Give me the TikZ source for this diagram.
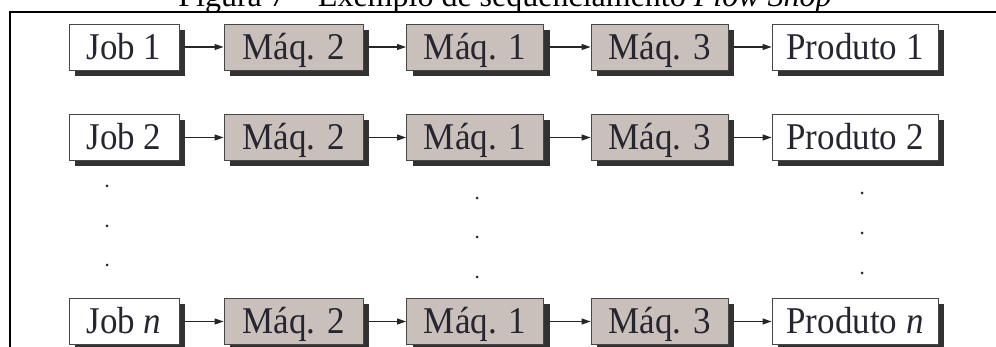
\documentclass[tikz,border=0pt]{standalone}
\usepackage{fontspec}
\usepackage{graphicx}
\setmainfont{Liberation Serif}
\usetikzlibrary{arrows.meta,shadows}

\definecolor{machinefill}{RGB}{201,191,187}
\definecolor{shadowgray}{RGB}{50,50,50}
\definecolor{edgegray}{RGB}{70,70,70}
\definecolor{inkdark}{RGB}{38,38,48}

% box labels are set slightly taller than wide
\newcommand{\boxlabel}[1]{\scalebox{1}[1.08]{#1}}

\tikzset{
  basebox/.style={
    draw=edgegray, line width=0.9pt, inner sep=0pt,
    minimum height=46pt, text height=24.5pt, text depth=0pt,
    text=inkdark, font=\fontsize{35}{40}\selectfont,
    drop shadow={shadow xshift=6pt, shadow yshift=-6pt,
                 fill=shadowgray, opacity=1}
  },
  endbox/.style={basebox, fill=white},
  machbox/.style={basebox, fill=machinefill},
  flow/.style={line width=1.1pt, draw=black!85,
    -{Triangle[length=9pt,width=6pt]}},
  gapdot/.style={circle, fill=inkdark, inner sep=0pt, minimum size=3pt}
}

\begin{document}
\begin{tikzpicture}[x=1pt, y=-1pt]
  \useasboundingbox (0,0) rectangle (996,347);
  \clip (0,0) rectangle (996,347);

  % caption above the frame
  \node[anchor=base, inner sep=0pt, text=black,
        font=\fontsize{32}{36}\selectfont] (caption) at (505,7)
    {Figura 7 -- Exemplo de sequenciamento \textit{Flow Shop}};

  % frame: top rule and left rule
  \coordinate (frameTR) at (996,12);
  \coordinate (frameTL) at (10,12);
  \coordinate (frameBL) at (10,347);
  \draw[line width=2pt] (frameTR) -- (frameTL) -- (frameBL);

  % three job rows: job -> M2 -> M1 -> M3 -> product
  \foreach \r/\y/\lab in {1/47/1, 2/137.5/2, n/321.5/\textit{n}} {
    \node[endbox,  minimum width=110pt] (job\r)  at (124,\y)   {\boxlabel{Job \lab}};
    \node[machbox, minimum width=139pt] (mtwo\r) at (293.5,\y) {\boxlabel{Máq. 2}};
    \node[machbox, minimum width=137pt] (mone\r) at (475,\y)   {\boxlabel{Máq. 1}};
    \node[machbox, minimum width=137pt] (mthr\r) at (659.5,\y) {\boxlabel{Máq. 3}};
    \node[endbox,  minimum width=166pt] (prod\r) at (855,\y)   {\boxlabel{Produto \lab}};
    \draw[flow] ([xshift=6pt]job\r.east)  -- (mtwo\r.west);
    \draw[flow] ([xshift=6pt]mtwo\r.east) -- (mone\r.west);
    \draw[flow] ([xshift=6pt]mone\r.east) -- (mthr\r.west);
    \draw[flow] ([xshift=6pt]mthr\r.east) -- (prod\r.west);
  }

  % vertical ellipses between row 2 and row n
  \node[gapdot] (jdotA) at (107,186) {};
  \node[gapdot] (jdotB) at (107,226) {};
  \node[gapdot] (jdotC) at (107,265) {};
  \node[gapdot] (mdotA) at (477,198) {};
  \node[gapdot] (mdotB) at (477,237) {};
  \node[gapdot] (mdotC) at (477,277) {};
  \node[gapdot] (pdotA) at (862,193) {};
  \node[gapdot] (pdotB) at (862,233) {};
  \node[gapdot] (pdotC) at (862,273) {};
\end{tikzpicture}
\end{document}
